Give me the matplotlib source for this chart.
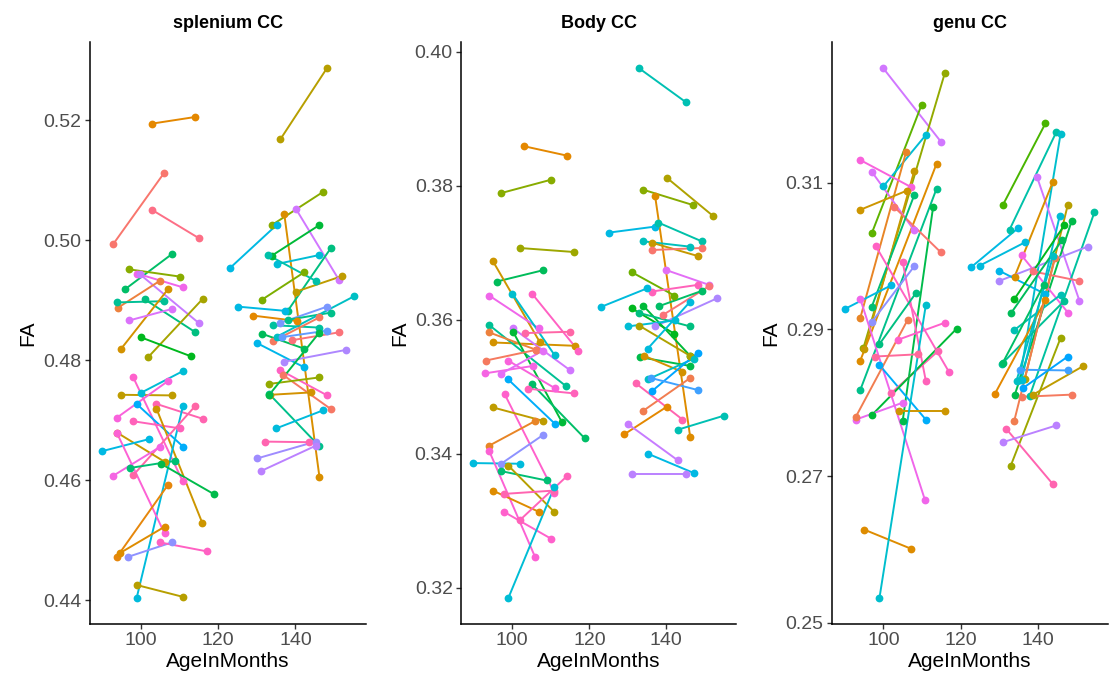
import numpy as np
import matplotlib
matplotlib.use("Agg")
import matplotlib.pyplot as plt

plt.rcParams['font.family'] = ['Liberation Sans', 'DejaVu Sans']

titles = ["splenium CC", "Body CC", "genu CC"]
x_ticks = [100, 120, 140]

# ---------------- splenium CC ----------------
p1_age1 = [102.9, 92.8, 102.9, 95.9, 97.0, 99.0, 99.7, 94.0, 93.8, 101.0, 94.9, 97.0, 101.9, 99.9,
           99.9, 94.9, 93.8, 98.0, 99.0, 103.9, 97.9, 104.0, 98.9, 98.0, 93.8, 89.9, 93.8, 92.8,
           97.1, 105.2, 93.8, 94.5, 96.7, 104.9, 98.9,
           136.1, 133.9, 137.1, 140.1, 123.0, 133.9, 138.0, 135.2, 132.9, 131.2, 140.2, 125.0,
           129.0, 134.1, 136.1, 134.1, 138.1, 135.2, 136.4, 139.1, 131.2, 130.1, 137.0, 136.1,
           136.8, 133.1, 133.5, 133.1, 133.2, 135.0, 132.0, 130.1, 131.1]
p1_fa1 = [0.5194, 0.4993, 0.5050, 0.4918, 0.4951, 0.4944, 0.4943, 0.4887, 0.4896, 0.4901, 0.4819,
          0.4866, 0.4805, 0.4838, 0.4745, 0.4742, 0.4704, 0.4771, 0.4726, 0.4727, 0.4698, 0.4719,
          0.4404, 0.4608, 0.4679, 0.4648, 0.4678, 0.4607, 0.4620, 0.4627, 0.4472, 0.4478, 0.4472,
          0.4496, 0.4425,
          0.5168, 0.5025, 0.5043, 0.5052, 0.4953, 0.4974, 0.4882, 0.4960, 0.4975, 0.4900, 0.4914,
          0.4889, 0.4874, 0.4858, 0.4862, 0.4831, 0.4867, 0.4839, 0.4838, 0.4833, 0.4844, 0.4828,
          0.4797, 0.4783, 0.4775, 0.4760, 0.4742, 0.4744, 0.4742, 0.4686, 0.4664, 0.4636, 0.4615]
p1_age2 = [114.0, 105.9, 115.0, 108.1, 110.1, 110.9, 114.9, 104.9, 106.0, 113.9, 107.0, 108.0, 116.0,
           113.0, 111.0, 108.0, 107.0, 110.8, 111.0, 116.0, 110.1, 115.9, 110.9, 114.0, 106.2, 102.0,
           106.1, 104.9, 108.9, 119.0, 106.9, 106.1, 108.0, 117.1, 111.0,
           148.1, 147.1, 146.2, 151.3, 135.1, 146.2, 149.2, 146.2, 145.2, 142.2, 152.1, 137.2,
           140.4, 146.2, 148.2, 146.2, 149.2, 155.1, 148.2, 151.2, 142.2, 142.2, 153.2, 148.2,
           149.2, 146.2, 144.1, 146.2, 146.1, 147.1, 143.5, 145.2, 145.2]
p1_fa2 = [0.5205, 0.5111, 0.5003, 0.4977, 0.4939, 0.4921, 0.4862, 0.4932, 0.4898, 0.4847, 0.4918,
          0.4885, 0.4902, 0.4806, 0.4782, 0.4741, 0.4765, 0.4598, 0.4655, 0.4702, 0.4686, 0.4528,
          0.4724, 0.4723, 0.4630, 0.4668, 0.4511, 0.4655, 0.4632, 0.4576, 0.4591, 0.4522, 0.4496,
          0.4481, 0.4405,
          0.5286, 0.5080, 0.4605, 0.4933, 0.5025, 0.5025, 0.4987, 0.4975, 0.4932, 0.4946, 0.4940,
          0.4882, 0.4865, 0.4854, 0.4889, 0.4871, 0.4879, 0.4906, 0.4849, 0.4846, 0.4819, 0.4788,
          0.4817, 0.4741, 0.4718, 0.4771, 0.4746, 0.4656, 0.4845, 0.4716, 0.4663, 0.4664, 0.4657]
p1_hue = [40, 15, 5, 150, 100, 310, 285, 30, 170, 160, 55, 295, 85, 130, 205, 70, 320, 330, 235, 345,
          340, 60, 210, 350, 65, 215, 325, 315, 155, 140, 38, 45, 265, 335, 75,
          75, 100, 50, 290, 215, 135, 160, 205, 180, 105, 70, 215, 40, 175, 260, 20, 165, 195, 255,
          10, 145, 220, 275, 335, 18, 95, 55, 165, 140, 210, 345, 270, 280]

# ---------------- Body CC ----------------
p2_age1 = [103.0, 97.1, 102.0, 96.0, 95.0, 95.0, 94.0, 100.0, 105.1, 94.0, 94.0, 103.2, 100.2, 100.2,
           93.1, 93.0, 98.9, 97.0, 98.9, 105.1, 104.1, 98.0, 95.0, 94.0, 97.1, 89.8, 94.0, 97.1,
           99.0, 94.9, 97.9, 97.9, 102.0, 99.0,
           133.0, 134.0, 140.1, 137.1, 125.1, 137.9, 134.0, 136.2, 136.2, 131.0, 140.0, 136.2,
           123.0, 139.1, 138.0, 137.1, 131.0, 134.0, 133.0, 130.0, 133.0, 135.2, 133.2, 134.3,
           135.2, 136.2, 136.0, 134.0, 132.1, 129.1, 143.1, 130.1, 135.2, 131.0]
p2_fa1 = [0.3859, 0.3789, 0.3707, 0.3657, 0.3687, 0.3566, 0.3636, 0.3639, 0.3639, 0.3592, 0.3581,
          0.3580, 0.3587, 0.3582, 0.3539, 0.3520, 0.3539, 0.3519, 0.3511, 0.3504, 0.3497, 0.3489,
          0.3469, 0.3412, 0.3385, 0.3386, 0.3404, 0.3374, 0.3382, 0.3345, 0.3340, 0.3313, 0.3301,
          0.3185,
          0.3975, 0.3794, 0.3812, 0.3784, 0.3730, 0.3745, 0.3717, 0.3715, 0.3704, 0.3671, 0.3674,
          0.3642, 0.3619, 0.3607, 0.3620, 0.3590, 0.3617, 0.3621, 0.3610, 0.3590, 0.3591, 0.3557,
          0.3544, 0.3546, 0.3511, 0.3493, 0.3513, 0.3464, 0.3505, 0.3429, 0.3436, 0.3444, 0.3400,
          0.3369]
p2_age2 = [114.1, 110.1, 116.1, 108.1, 107.1, 116.4, 106.9, 111.0, 117.1, 113.9, 106.2, 115.0, 114.9,
           112.9, 106.2, 105.4, 111.0, 108.0, 111.0, 118.8, 116.0, 110.9, 108.0, 106.0, 108.0, 102.1,
           105.9, 108.9, 110.9, 107.0, 110.9, 110.1, 114.1, 110.9,
           145.0, 147.0, 152.1, 146.2, 137.1, 149.2, 146.2, 148.2, 149.2, 142.1, 151.1, 148.2,
           135.1, 151.1, 149.2, 153.2, 142.1, 146.2, 146.2, 142.3, 146.2, 146.2, 146.2, 144.2,
           147.2, 148.2, 148.2, 146.2, 144.2, 140.1, 155.1, 143.0, 147.2, 145.1]
p2_fa2 = [0.3845, 0.3809, 0.3701, 0.3674, 0.3567, 0.3561, 0.3587, 0.3547, 0.3554, 0.3501, 0.3555,
          0.3582, 0.3525, 0.3447, 0.3555, 0.3531, 0.3498, 0.3554, 0.3445, 0.3423, 0.3490, 0.3342,
          0.3449, 0.3449, 0.3428, 0.3385, 0.3246, 0.3360, 0.3313, 0.3313, 0.3345, 0.3273, 0.3366,
          0.3350,
          0.3925, 0.3771, 0.3755, 0.3425, 0.3739, 0.3717, 0.3709, 0.3695, 0.3707, 0.3636, 0.3652,
          0.3652, 0.3647, 0.3650, 0.3643, 0.3632, 0.3579, 0.3546, 0.3590, 0.3599, 0.3546, 0.3627,
          0.3531, 0.3522, 0.3542, 0.3551, 0.3495, 0.3513, 0.3451, 0.3470, 0.3457, 0.3390, 0.3371,
          0.3369]
p2_hue = [40, 100, 90, 145, 60, 55, 310, 200, 335, 170, 30, 350, 290, 135, 20, 315, 320, 300, 235,
          150, 340, 330, 70, 35, 265, 210, 325, 155, 75, 45, 345, 330, 340, 205,
          185, 100, 80, 45, 215, 180, 190, 65, 15, 110, 300, 340, 210, 10, 150, 275, 130, 135,
          160, 205, 80, 210, 140, 55, 195, 245, 250, 25, 345, 40, 185, 285, 215, 280]

# ---------------- genu CC ----------------
p3_age1 = [100.0, 94.8, 97.0, 100.0, 94.0, 95.1, 94.0, 94.0, 97.0, 94.0, 94.0, 105.0, 102.8, 97.0,
           98.0, 105.0, 97.0, 90.1, 94.0, 97.9, 103.9, 98.9, 102.0, 97.0, 92.9, 92.9, 104.1, 95.0,
           99.0, 99.0,
           131.0, 132.7, 135.3, 122.8, 125.0, 139.8, 134.0, 136.6, 137.9, 134.0, 130.0, 130.0,
           135.8, 138.8, 135.8, 133.2, 133.9, 133.9, 130.7, 128.9, 133.0, 138.8, 135.8, 135.3,
           136.2, 133.9, 131.9, 130.9, 130.9, 134.5]
p3_fa1 = [0.3256, 0.2874, 0.3031, 0.3095, 0.2915, 0.2873, 0.2857, 0.3131, 0.3115, 0.3063, 0.2817,
          0.2775, 0.3067, 0.2931, 0.3014, 0.2992, 0.2910, 0.2928, 0.2942, 0.2863, 0.2886, 0.2852,
          0.2813, 0.2783, 0.2777, 0.2781, 0.2788, 0.2627, 0.2534, 0.2880,
          0.3070, 0.3036, 0.2831, 0.2985, 0.2987, 0.3108, 0.2972, 0.2832, 0.2809, 0.2810, 0.2966,
          0.2980, 0.3001, 0.2979, 0.2831, 0.2923, 0.2941, 0.2899, 0.2853, 0.2812, 0.2714, 0.2811,
          0.2808, 0.2845, 0.2820, 0.2775, 0.2764, 0.2746, 0.2854, 0.2830]
p3_age2 = [114.9, 115.9, 109.9, 111.0, 105.9, 108.0, 113.8, 107.2, 108.0, 106.0, 113.8, 112.9, 114.9,
           108.0, 117.0, 111.0, 108.0, 102.0, 110.8, 109.0, 115.9, 111.0, 114.1, 119.0, 105.0, 106.3,
           115.9, 107.1, 111.0, 108.5,
           142.0, 144.8, 145.9, 134.9, 136.8, 150.8, 143.9, 147.8, 154.7, 148.8, 153.0, 142.0,
           147.8, 150.8, 145.7, 146.3, 146.9, 145.9, 146.9, 142.0, 145.9, 151.8, 148.8, 147.8,
           147.8, 144.5, 143.9, 144.8, 141.5, 144.0]
p3_fa2 = [0.3156, 0.3249, 0.3206, 0.3165, 0.3142, 0.3116, 0.3126, 0.3094, 0.3035, 0.3089, 0.3092,
          0.3067, 0.3005, 0.3083, 0.2842, 0.2830, 0.2986, 0.2960, 0.2667, 0.2866, 0.2909, 0.2777,
          0.2870, 0.2901, 0.2800, 0.2913, 0.2788, 0.2601, 0.2933, 0.2950,
          0.3181, 0.3169, 0.3166, 0.3038, 0.3019, 0.2939, 0.3101, 0.3070, 0.3060, 0.3048, 0.3013,
          0.2948, 0.2923, 0.2966, 0.3055, 0.3022, 0.3042, 0.2947, 0.2939, 0.2940, 0.2888, 0.2850,
          0.2811, 0.2844, 0.2863, 0.2998, 0.2689, 0.2769, 0.2960, 0.3000]
p3_hue = [290, 95, 115, 205, 35, 65, 45, 320, 295, 60, 165, 140, 15, 155, 335, 340, 265, 215, 310,
          355, 330, 235, 345, 135, 305, 25, 60, 45, 200, 160,
          120, 180, 200, 215, 210, 290, 50, 75, 175, 140, 275, 220, 315, 10, 205, 145, 130, 185,
          170, 40, 90, 70, 20, 250, 245, 25, 345, 280, 150, 195]

y_ticks = [[0.44, 0.46, 0.48, 0.50, 0.52],
           [0.32, 0.34, 0.36, 0.38, 0.40],
           [0.25, 0.27, 0.29, 0.31]]
y_lims = [(0.4360, 0.5330), (0.31458, 0.40145), (0.24982, 0.32919)]
x_lim = (86.7, 158.2)


def hcl_to_hex(h, c=100.0, l=65.0):
    hr = np.deg2rad(h)
    u, v = c * np.cos(hr), c * np.sin(hr)
    Xn, Yn, Zn = 95.047, 100.0, 108.883
    un = 4 * Xn / (Xn + 15 * Yn + 3 * Zn)
    vn = 9 * Yn / (Xn + 15 * Yn + 3 * Zn)
    Y = Yn * ((l + 16) / 116) ** 3
    up = u / (13 * l) + un
    vp = v / (13 * l) + vn
    X = Y * 9 * up / (4 * vp)
    Z = Y * (12 - 3 * up - 20 * vp) / (4 * vp)
    xyz = np.array([X, Y, Z]) / 100.0
    M = np.array([[3.2404542, -1.5371385, -0.4985314],
                  [-0.9692660, 1.8760108, 0.0415560],
                  [0.0556434, -0.2040259, 1.0572252]])
    rgb = M @ xyz
    rgb = np.where(rgb <= 0.0031308, 12.92 * rgb, 1.055 * np.power(np.clip(rgb, 0, None), 1 / 2.4) - 0.055)
    rgb = np.clip(rgb, 0, 1)
    return tuple(rgb)


panels = [(p1_age1, p1_fa1, p1_age2, p1_fa2, p1_hue),
          (p2_age1, p2_fa1, p2_age2, p2_fa2, p2_hue),
          (p3_age1, p3_fa1, p3_age2, p3_fa2, p3_hue)]

W, H = 1120, 688
fig = plt.figure(figsize=(W / 100, H / 100), dpi=100)
lefts = [89.6, 461.1, 832.0]
widths = [276.2, 275.3, 276.0]
top_px, bot_px = 42, 624

for i, (a1, f1, a2, f2, hues) in enumerate(panels):
    ax = fig.add_axes([lefts[i] / W, 1 - bot_px / H, widths[i] / W, (bot_px - top_px) / H])
    for j in range(len(a1)):
        col = hcl_to_hex(hues[j])
        ax.plot([a1[j], a2[j]], [f1[j], f2[j]], '-', color=col, lw=1.4, solid_capstyle='butt', zorder=2)
        ax.plot([a1[j], a2[j]], [f1[j], f2[j]], 'o', color=col, ms=5.6, mew=0, zorder=3)
    ax.set_xlim(*x_lim)
    ax.set_ylim(*y_lims[i])
    ax.set_xticks(x_ticks)
    ax.set_xticklabels([str(t) for t in x_ticks])
    ax.set_yticks(y_ticks[i])
    ax.set_yticklabels([f"{t:.2f}" for t in y_ticks[i]])
    for s in ['top', 'right']:
        ax.spines[s].set_visible(False)
    for s in ['left', 'bottom']:
        ax.spines[s].set_linewidth(1.1)
        ax.spines[s].set_color('black')
    ax.tick_params(axis='both', length=3.5, width=1.0, color='#333333', labelcolor='#4D4D4D',
                   labelsize=14, pad=2.5)
    ax.set_xlabel("AgeInMonths", fontsize=15, color='black', labelpad=2)
    ax.set_ylabel("FA", fontsize=15, color='black', labelpad=4)
    ax.set_title(titles[i], fontsize=13, fontweight='bold', pad=10)

fig.savefig("out.png", dpi=100, facecolor='white')
